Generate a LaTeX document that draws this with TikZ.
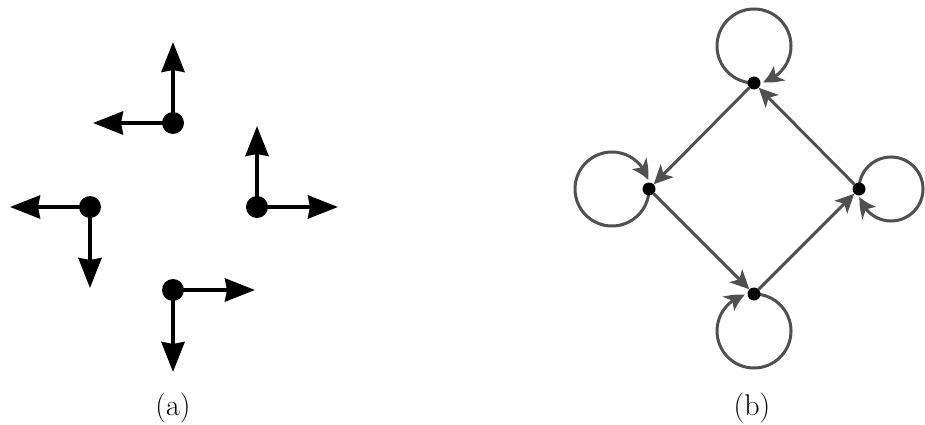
\documentclass[tikz,border=0pt]{standalone}
\usetikzlibrary{arrows.meta,bending}
\definecolor{edgegray}{RGB}{80,80,80}
\tikzset{
  bigdot/.style={circle,fill=black,inner sep=0pt,minimum size=22pt},
  smalldot/.style={circle,fill=black,inner sep=0pt,minimum size=13pt},
  vecarrow/.style={line width=4pt,-{Stealth[length=30pt,width=23pt,inset=2pt]}},
  gedge/.style={edgegray,line width=3pt,-{Stealth[length=19pt,width=18pt,inset=5pt]}},
  gloop/.style={edgegray,line width=3pt,-{Stealth[length=19pt,width=18pt,inset=5pt,bend]}},
  caption/.style={anchor=base,font=\fontsize{30}{36}\selectfont}
}
\begin{document}
\begin{tikzpicture}[x=1pt,y=-1pt]
\useasboundingbox (0,0) rectangle (925,425);
% ---------- panel (a) ----------
\coordinate (A1) at (173,123);
\coordinate (A2) at (90,207);
\coordinate (A3) at (257,207);
\coordinate (A4) at (173,290);
\coordinate (A1u) at (173,42);
\coordinate (A1l) at (93,123);
\coordinate (A2l) at (10,207);
\coordinate (A2d) at (90,288);
\coordinate (A3u) at (257,126);
\coordinate (A3r) at (338,207);
\coordinate (A4r) at (255,290);
\coordinate (A4d) at (173,372);
\draw[vecarrow] (A1) -- (A1u);
\draw[vecarrow] (A1) -- (A1l);
\draw[vecarrow] (A2) -- (A2l);
\draw[vecarrow] (A2) -- (A2d);
\draw[vecarrow] (A3) -- (A3u);
\draw[vecarrow] (A3) -- (A3r);
\draw[vecarrow] (A4) -- (A4r);
\draw[vecarrow] (A4) -- (A4d);
\node[bigdot] (a1) at (A1) {};
\node[bigdot] (a2) at (A2) {};
\node[bigdot] (a3) at (A3) {};
\node[bigdot] (a4) at (A4) {};
\node[caption] (capa) at (173,415.5) {(a)};
% ---------- panel (b) ----------
\coordinate (T) at (754,83);
\coordinate (L) at (649,189);
\coordinate (R) at (859,189);
\coordinate (B) at (754,294);
\draw[gloop] (T) arc[start angle=90,end angle=436,radius=37];
\draw[gloop] (L) arc[start angle=0,end angle=346,radius=37];
\draw[gloop] (R) arc[start angle=180,end angle=526,radius=32];
\draw[gloop] (B) arc[start angle=270,end angle=616,radius=37];
\node[smalldot] (t) at (T) {};
\node[smalldot] (l) at (L) {};
\node[smalldot] (r) at (R) {};
\node[smalldot] (b) at (B) {};
\draw[gedge] (t) -- (l);
\draw[gedge] (l) -- (b);
\draw[gedge] (b) -- (r);
\draw[gedge] (r) -- (t);
\node[caption] (capb) at (752,415.5) {(b)};
\end{tikzpicture}
\end{document}
